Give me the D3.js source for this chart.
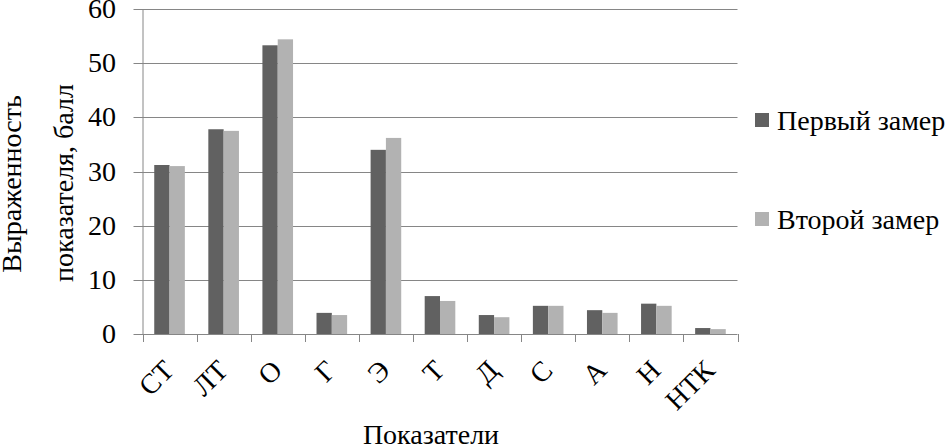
<!DOCTYPE html>
<html><head><meta charset="utf-8">
<script src="https://cdn.jsdelivr.net/npm/d3@7"></script>
<style>body{margin:0;background:#fff}svg{display:block}</style>
</head><body>
<svg id="c" width="949" height="444"></svg>
<script>
const categories = ["СТ","ЛТ","О","Г","Э","Т","Д","С","А","Н","НТК"];
const series1 = [31.2,37.8,53.3,3.9,34.0,7.0,3.5,5.2,4.4,5.6,1.1];
const series2 = [31.0,37.5,54.4,3.5,36.2,6.1,3.1,5.2,3.9,5.2,0.9];
const seriesNames = ["Первый замер","Второй замер"];
const colors = ["#616161","#b2b2b2"];
const yTicks = [0,10,20,30,40,50,60];

const svg = d3.select("#c");
const font = "'Liberation Serif','Times New Roman',serif";
const L = 142.5, R = 737.5, T = 9, B = 334;
const x = d3.scaleBand().domain(categories).range([L,R]).paddingInner(0.434).paddingOuter(0.217);
const x1 = d3.scaleBand().domain([0,1]).range([0,x.bandwidth()]);
const y = d3.scaleLinear().domain([0,60]).range([B,T]);

// gridlines
svg.append("g").selectAll("line").data(yTicks).join("line")
  .attr("x1",L-9).attr("x2",R).attr("y1",d=>Math.round(y(d))+0.5).attr("y2",d=>Math.round(y(d))+0.5)
  .attr("stroke","#868686").attr("stroke-width",1);
// y axis line
svg.append("line").attr("x1",L+0.5).attr("x2",L+0.5).attr("y1",T).attr("y2",B)
  .attr("stroke","#868686");
// x ticks
const bounds = categories.map((c,i)=>L+i*(R-L)/categories.length).concat([R]);
svg.append("g").selectAll("line").data(bounds).join("line")
  .attr("x1",d=>Math.round(d)+0.5).attr("x2",d=>Math.round(d)+0.5).attr("y1",B).attr("y2",B+8)
  .attr("stroke","#868686");

// bars
const data = [series1,series2];
data.forEach((s,k)=>{
  svg.append("g").selectAll("rect").data(s).join("rect")
    .attr("x",(d,i)=>x(categories[i])+x1(k))
    .attr("width",x1.bandwidth())
    .attr("y",d=>y(d)).attr("height",d=>B-y(d))
    .attr("fill",colors[k]);
});

// y tick labels
svg.append("g").selectAll("text").data(yTicks).join("text")
  .attr("x",116).attr("y",d=>y(d)+9)
  .attr("text-anchor","end").attr("font-family",font).attr("font-size",28)
  .text(d=>d);

// x labels
svg.append("g").selectAll("text").data(categories).join("text")
  .attr("transform",d=>`translate(${x(d)+x.bandwidth()/2+6},${372}) rotate(-45)`)
  .attr("text-anchor","end").attr("font-family",font).attr("font-size",28)
  .text(d=>d);

// axis titles
svg.append("text").attr("transform","translate(21,184) rotate(-90)")
  .attr("text-anchor","middle").attr("font-family",font).attr("font-size",28)
  .text("Выраженность");
svg.append("text").attr("transform","translate(73,183) rotate(-90)")
  .attr("text-anchor","middle").attr("font-family",font).attr("font-size",28)
  .text("показателя, балл");
svg.append("text").attr("x",431).attr("y",444)
  .attr("text-anchor","middle").attr("font-family",font).attr("font-size",28)
  .text("Показатели");

// legend
const ly = [120,219];
seriesNames.forEach((n,k)=>{
  svg.append("rect").attr("x",755).attr("y",ly[k]-7).attr("width",14).attr("height",14).attr("fill",colors[k]);
  svg.append("text").attr("x",777).attr("y",ly[k]+10).attr("font-family",font).attr("font-size",28).text(n);
});
</script>
</body></html>
